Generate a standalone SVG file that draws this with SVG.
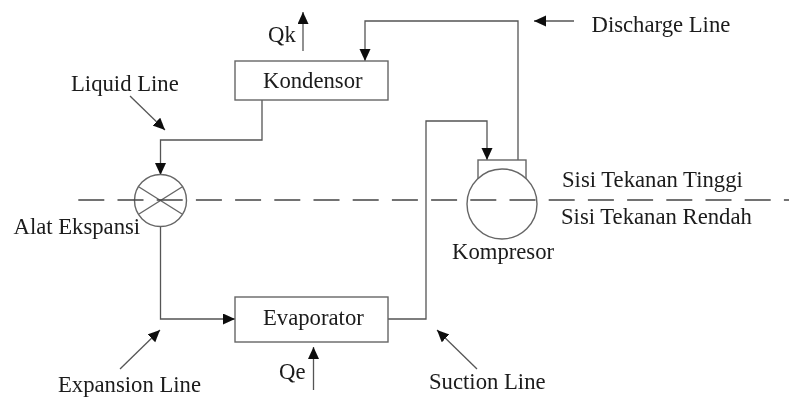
<svg xmlns="http://www.w3.org/2000/svg" width="789" height="397" viewBox="0 0 789 397">
<style>
text{font-family:"Liberation Serif","Times New Roman",serif;font-size:22.7px;fill:#1a1a1a}
.b{fill:#fff;stroke:#666;stroke-width:1.4}
.l{fill:none;stroke:#666;stroke-width:1.4}
.a{fill:none;stroke:#555;stroke-width:1.3;marker-end:url(#h)}
.d{fill:none;stroke:#444;stroke-width:1.6;stroke-dasharray:26 13.2}
.s{filter:url(#soft)}
</style>
<defs>
<filter id="soft" x="0" y="0" width="789" height="397" filterUnits="userSpaceOnUse"><feGaussianBlur stdDeviation="0.45"/></filter>
<marker id="h" markerUnits="userSpaceOnUse" markerWidth="13" markerHeight="13" refX="12" refY="5.500" orient="auto"><path d="M0 0L12 5.500L0 11Z" fill="#0d0d0d"/></marker>
</defs>
<rect width="789" height="397" fill="#fff"/>
<g class="s">
<g id="connectors">
<path class="a" d="M518 160V21H365V61"/>
<path class="a" d="M388 319H426V121H487V160"/>
<path class="a" d="M262 100V140H160.500V175"/>
<path class="a" d="M160.500 226V319H235"/>
<path class="a" d="M303 51V12"/>
<path class="a" d="M313.500 390V347"/>
<path class="a" d="M130 96L165 130"/>
<path class="a" d="M574 21H534"/>
<path class="a" d="M120 369L160 330"/>
<path class="a" d="M477 369L437 330"/>
</g>
<g id="kompresor"><rect class="b" x="478" y="160" width="48" height="24"/><circle class="b" cx="502" cy="204" r="35"/><text x="452" y="258.500">Kompresor</text></g>
<g id="alat-ekspansi"><circle class="b" cx="160.500" cy="200.500" r="26"/><path class="l" d="M139 187L182 214M182 187L139 214"/><text x="13.500" y="234">Alat Ekspansi</text></g>
<path class="d" d="M78.300 200H789"/>
<g id="kondensor"><rect class="b" x="235" y="61" width="153" height="39"/><text x="263" y="88">Kondensor</text></g>
<g id="evaporator"><rect class="b" x="235" y="297" width="153" height="45"/><text x="263" y="325">Evaporator</text></g>
<g id="labels">
<text x="268" y="41.500">Qk</text>
<text x="71" y="91">Liquid Line</text>
<text x="591.500" y="32">Discharge Line</text>
<text x="562" y="187">Sisi Tekanan Tinggi</text>
<text x="561" y="224">Sisi Tekanan Rendah</text>
<text x="58" y="392">Expansion Line</text>
<text x="279" y="379">Qe</text>
<text x="429" y="389">Suction Line</text>
</g>
</g>
</svg>
